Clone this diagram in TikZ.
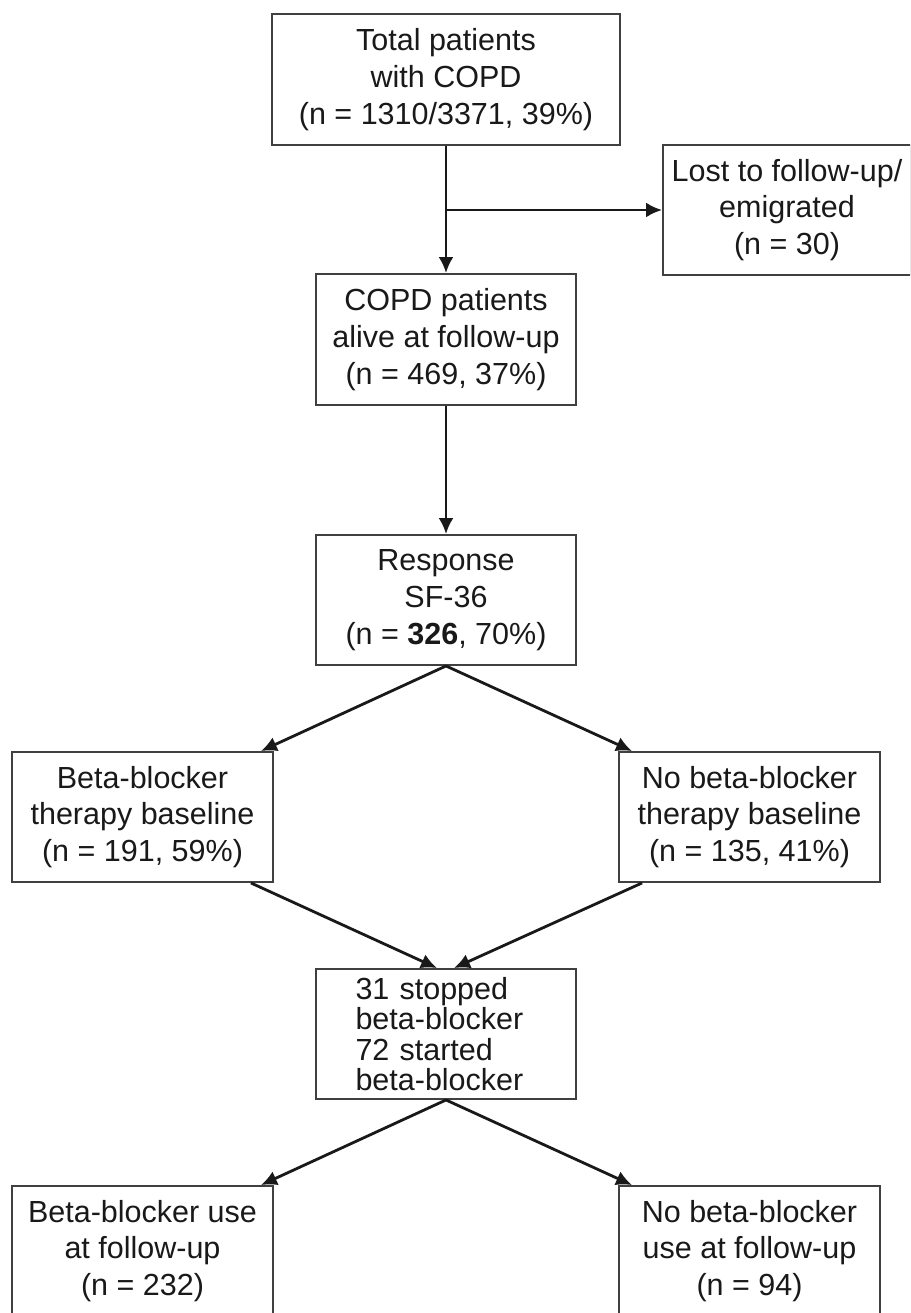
\documentclass[tikz,border=0pt]{standalone}
\usepackage{fontspec}
\setmainfont{Liberation Sans}
\usetikzlibrary{arrows.meta, positioning, calc}
\tikzset{
	every node/.style={
		font=\fontsize{30.5}{36.7}\selectfont,
		text=black!90
	},
	stagebox/.style={
		shape=rectangle,
		draw=black!75,
		line width=1.9pt,
		minimum width=260pt,
		minimum height=130pt,
		inner sep=2pt,
		align=center
	},
	flow/.style={
		-{Latex[length=16pt,width=15pt]},
		line width=2.8pt,
		draw=black!90
	}
}

\begin{document}
\begin{tikzpicture}[x=1pt, y=-1pt]
	
	\clip (0,0) rectangle (910,1313);
	\fill[white] (0,0) rectangle (910,1313);
	
	\node[stagebox, minimum width=348pt, minimum height=131pt] (total) at (446,79.5) {Total patients\\with COPD\\(n = 1310/3371, 39\%)};
	\node[stagebox, minimum width=248pt] (lost) at (787,210) {Lost to follow-up/\\emigrated\\(n = 30)};
	\node[stagebox, minimum height=131pt] (alive) at (446,339.5) {COPD patients\\alive at follow-up\\(n = 469, 37\%)};
	\node[stagebox] (response) at (446,600) {Response\\SF-36\\(n = \textbf{326}, 70\%)};
	
	\node[stagebox, minimum width=261pt] (bbbase) at (142.5,817) {Beta-blocker\\therapy baseline\\(n = 191, 59\%)};
	\node[stagebox, minimum width=261pt] (nobbbase) at (749.5,817) {No beta-blocker\\therapy baseline\\(n = 135, 41\%)};
	
	\node[stagebox, text width=181pt, align=left, font=\fontsize{30.5}{30.3}\selectfont] (change) at (446,1034) {31 stopped\\beta-blocker\\72 started\\beta-blocker};
	
	\node[stagebox, minimum width=261pt] (bbuse) at (142.5,1251) {Beta-blocker use\\at follow-up\\(n = 232)};
	\node[stagebox, minimum width=261pt] (nobbuse) at (749.5,1251) {No beta-blocker\\use at follow-up\\(n = 94)};
	
	% connectors
	\draw[flow] (total) -- (alive);
	\draw[flow] (total.south |- lost.west) -- (lost.west);
	\draw[flow] (alive) -- (response);
	
	\draw[flow] (response.south) -- ([xshift=-13pt]bbbase.north east);
	\draw[flow] (response.south) -- ([xshift=14pt]nobbbase.north west);
	
	\draw[flow] ([xshift=-23pt]bbbase.south east) -- ([xshift=-9pt]change.north);
	\draw[flow] ([xshift=24pt]nobbbase.south west) -- ([xshift=8pt]change.north);
	
	\draw[flow] (change.south) -- ([xshift=-13pt]bbuse.north east);
	\draw[flow] (change.south) -- ([xshift=14pt]nobbuse.north west);
	
\end{tikzpicture}
\end{document}
